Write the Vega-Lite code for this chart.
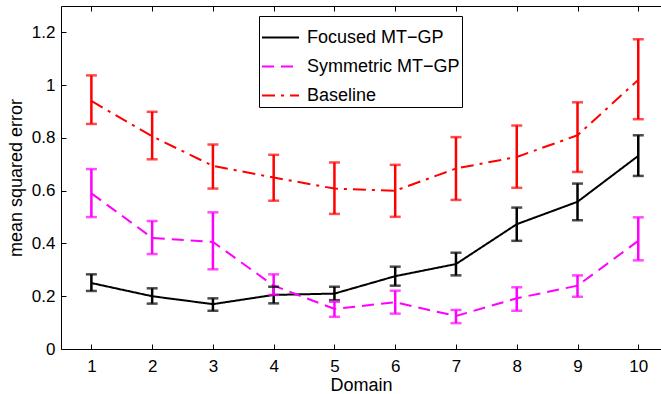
{
  "$schema": "https://vega.github.io/schema/vega-lite/v6.json",
  "width": 600,
  "height": 343,
  "autosize": {"type": "none"},
  "padding": {"left": 61, "top": 6, "right": 0, "bottom": 45},
  "background": "white",
  "config": {
    "view": {"stroke": null},
    "font": "Liberation Sans",
    "axis": {
      "domainColor": "black",
      "domainWidth": 1,
      "tickColor": "black",
      "tickWidth": 1,
      "tickSize": -5,
      "labelColor": "black",
      "labelFont": "Liberation Sans",
      "labelFontSize": 17,
      "titleFont": "Liberation Sans",
      "titleFontSize": 18,
      "titleFontWeight": "normal",
      "titleColor": "black",
      "grid": false
    },
    "legend": {
      "labelFont": "Liberation Sans",
      "labelFontSize": 18,
      "labelColor": "black",
      "labelLimit": 400,
      "symbolType": "stroke",
      "symbolSize": 1369,
      "symbolStrokeWidth": 2,
      "strokeColor": "black",
      "fillColor": "white",
      "padding": 2,
      "rowPadding": -0.5,
      "labelOffset": 7,
      "cornerRadius": 0
    }
  },
  "data": {
    "values": [
      {"method": "Focused MT\u2212GP", "domain": 1, "mse": 0.25, "lo": 0.22, "hi": 0.283},
      {"method": "Focused MT\u2212GP", "domain": 2, "mse": 0.2, "lo": 0.172, "hi": 0.23},
      {"method": "Focused MT\u2212GP", "domain": 3, "mse": 0.17, "lo": 0.145, "hi": 0.192},
      {"method": "Focused MT\u2212GP", "domain": 4, "mse": 0.205, "lo": 0.173, "hi": 0.236},
      {"method": "Focused MT\u2212GP", "domain": 5, "mse": 0.21, "lo": 0.185, "hi": 0.236},
      {"method": "Focused MT\u2212GP", "domain": 6, "mse": 0.276, "lo": 0.24, "hi": 0.312},
      {"method": "Focused MT\u2212GP", "domain": 7, "mse": 0.322, "lo": 0.279, "hi": 0.365},
      {"method": "Focused MT\u2212GP", "domain": 8, "mse": 0.473, "lo": 0.41, "hi": 0.536},
      {"method": "Focused MT\u2212GP", "domain": 9, "mse": 0.558, "lo": 0.488, "hi": 0.627},
      {"method": "Focused MT\u2212GP", "domain": 10, "mse": 0.732, "lo": 0.656, "hi": 0.81},
      {"method": "Symmetric MT\u2212GP", "domain": 1, "mse": 0.59, "lo": 0.5, "hi": 0.682},
      {"method": "Symmetric MT\u2212GP", "domain": 2, "mse": 0.421, "lo": 0.36, "hi": 0.485},
      {"method": "Symmetric MT\u2212GP", "domain": 3, "mse": 0.406, "lo": 0.302, "hi": 0.518},
      {"method": "Symmetric MT\u2212GP", "domain": 4, "mse": 0.24, "lo": 0.205, "hi": 0.283},
      {"method": "Symmetric MT\u2212GP", "domain": 5, "mse": 0.152, "lo": 0.122, "hi": 0.179},
      {"method": "Symmetric MT\u2212GP", "domain": 6, "mse": 0.177, "lo": 0.134, "hi": 0.221},
      {"method": "Symmetric MT\u2212GP", "domain": 7, "mse": 0.125, "lo": 0.098, "hi": 0.148},
      {"method": "Symmetric MT\u2212GP", "domain": 8, "mse": 0.192, "lo": 0.145, "hi": 0.234},
      {"method": "Symmetric MT\u2212GP", "domain": 9, "mse": 0.24, "lo": 0.198, "hi": 0.279},
      {"method": "Symmetric MT\u2212GP", "domain": 10, "mse": 0.41, "lo": 0.336, "hi": 0.499},
      {"method": "Baseline", "domain": 1, "mse": 0.94, "lo": 0.853, "hi": 1.037},
      {"method": "Baseline", "domain": 2, "mse": 0.806, "lo": 0.719, "hi": 0.899},
      {"method": "Baseline", "domain": 3, "mse": 0.694, "lo": 0.608, "hi": 0.775},
      {"method": "Baseline", "domain": 4, "mse": 0.65, "lo": 0.562, "hi": 0.736},
      {"method": "Baseline", "domain": 5, "mse": 0.608, "lo": 0.512, "hi": 0.707},
      {"method": "Baseline", "domain": 6, "mse": 0.6, "lo": 0.501, "hi": 0.698},
      {"method": "Baseline", "domain": 7, "mse": 0.684, "lo": 0.565, "hi": 0.803},
      {"method": "Baseline", "domain": 8, "mse": 0.728, "lo": 0.611, "hi": 0.847},
      {"method": "Baseline", "domain": 9, "mse": 0.81, "lo": 0.671, "hi": 0.935},
      {"method": "Baseline", "domain": 10, "mse": 1.02, "lo": 0.871, "hi": 1.174}
    ]
  },
  "resolve": {"axis": {"x": "independent", "y": "independent"}},
  "layer": [
    {
      "mark": {"type": "line", "strokeWidth": 2, "strokeCap": "butt"},
      "encoding": {
        "x": {
          "field": "domain", "type": "quantitative",
          "scale": {"domain": [0.5, 10.374], "nice": false, "zero": false},
          "axis": {"orient": "bottom", "values": [1,2,3,4,5,6,7,8,9,10], "title": "Domain", "labelPadding": 14, "titlePadding": 2}
        },
        "y": {
          "field": "mse", "type": "quantitative",
          "scale": {"domain": [0, 1.3], "nice": false},
          "axis": {"orient": "left", "values": [0, 0.2, 0.4, 0.6, 0.8, 1, 1.2], "format": ".1~f", "title": "mean squared error", "labelPadding": 11, "titlePadding": 6}
        },
        "color": {
          "field": "method", "type": "nominal",
          "scale": {"domain": ["Focused MT\u2212GP", "Symmetric MT\u2212GP", "Baseline"], "range": ["#000000", "#ff00ff", "#ff0000"]},
          "legend": {"orient": "none", "legendX": 198, "legendY": 10, "title": null}
        },
        "strokeDash": {
          "field": "method", "type": "nominal",
          "scale": {"domain": ["Focused MT\u2212GP", "Symmetric MT\u2212GP", "Baseline"], "range": [[1, 0], [12, 7], [13, 6, 3, 6]]},
          "legend": {"orient": "none", "legendX": 198, "legendY": 10, "title": null}
        }
      }
    },
    {
      "mark": {"type": "rule", "strokeWidth": 2.5},
      "encoding": {
        "x": {"field": "domain", "type": "quantitative", "axis": {"orient": "top", "values": [1,2,3,4,5,6,7,8,9,10], "labels": false, "title": null}},
        "y": {"field": "lo", "type": "quantitative", "axis": null},
        "y2": {"field": "hi"},
        "color": {"field": "method", "type": "nominal", "legend": null}
      }
    },
    {
      "mark": {"type": "tick", "orient": "horizontal", "size": 11, "thickness": 2.5},
      "encoding": {
        "x": {"field": "domain", "type": "quantitative", "axis": null},
        "y": {"field": "lo", "type": "quantitative", "axis": null},
        "color": {"field": "method", "type": "nominal", "legend": null}
      }
    },
    {
      "mark": {"type": "tick", "orient": "horizontal", "size": 11, "thickness": 2.5},
      "encoding": {
        "x": {"field": "domain", "type": "quantitative", "axis": null},
        "y": {"field": "hi", "type": "quantitative", "axis": null},
        "color": {"field": "method", "type": "nominal", "legend": null}
      }
    }
  ]
}
